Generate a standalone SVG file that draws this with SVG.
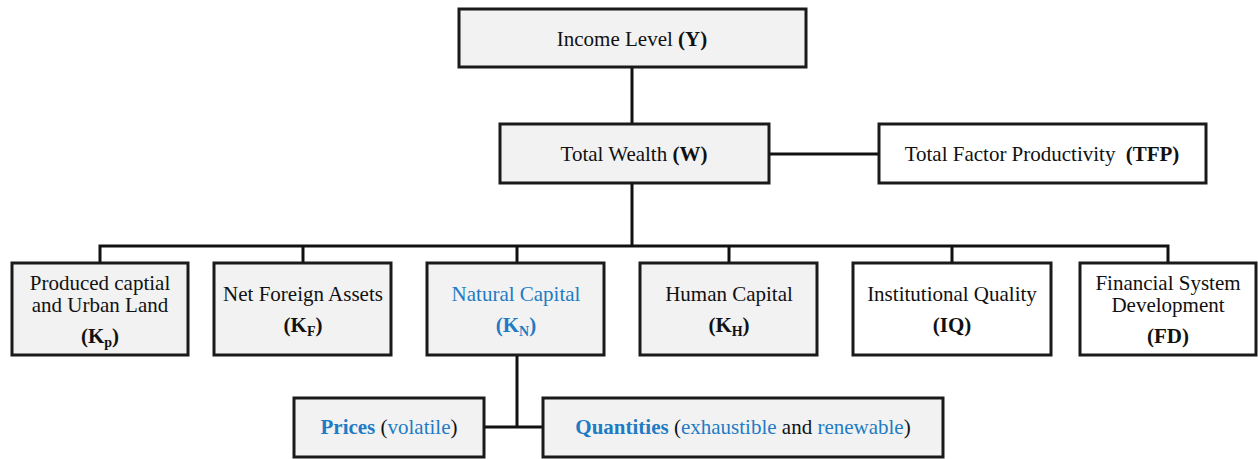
<svg xmlns="http://www.w3.org/2000/svg" width="1258" height="459" viewBox="0 0 1258 459" font-family="'Liberation Serif', 'Times New Roman', 'DejaVu Serif', serif">
<style>
.box{stroke:#1a1a1a;stroke-width:3}
.g{fill:#f2f2f2}
.w{fill:#ffffff}
text{font-family:'Liberation Serif','Times New Roman','DejaVu Serif',serif;font-size:21px;fill:#111;text-anchor:middle}
.b{font-weight:bold}
.blue{fill:#1f7bc4}
.sub{font-size:14px;font-weight:bold}
.conn{stroke:#111;stroke-width:3;fill:none}
</style>
<g id="connectors">
<line class="conn" x1="632" y1="67" x2="632" y2="124"/>
<line class="conn" x1="632" y1="183" x2="632" y2="246"/>
<line class="conn" x1="769" y1="154" x2="879" y2="154"/>
<polyline class="conn" points="100,263 100,246 1168,246 1168,263"/>
<line class="conn" x1="303" y1="246" x2="303" y2="263"/>
<line class="conn" x1="517" y1="246" x2="517" y2="263"/>
<line class="conn" x1="729" y1="246" x2="729" y2="263"/>
<line class="conn" x1="952" y1="246" x2="952" y2="263"/>
<line class="conn" x1="517" y1="355" x2="517" y2="427"/>
<line class="conn" x1="484" y1="427" x2="543" y2="427"/>
</g>
<g id="income">
<rect class="box g" x="459" y="9" width="347" height="58"/>
<text x="632" y="46">Income Level <tspan class="b">(Y)</tspan></text>
</g>
<g id="wealth">
<rect class="box g" x="500" y="124" width="269" height="59"/>
<text x="634" y="161">Total Wealth <tspan class="b">(W)</tspan></text>
</g>
<g id="tfp">
<rect class="box w" x="879" y="124" width="327" height="59"/>
<text x="1042" y="161">Total Factor Productivity <tspan class="b" dx="5">(TFP)</tspan></text>
</g>
<g id="kp">
<rect class="box g" x="12" y="263" width="176" height="92"/>
<text x="100" y="290">Produced captial</text>
<text x="100" y="312">and Urban Land</text>
<text x="100" y="343" class="b">(K<tspan class="sub" dy="4">p</tspan><tspan dy="-4">)</tspan></text>
</g>
<g id="kf">
<rect class="box g" x="214" y="263" width="177" height="92"/>
<text x="303" y="301">Net Foreign Assets</text>
<text x="303" y="332" class="b">(K<tspan class="sub" dy="4">F</tspan><tspan dy="-4">)</tspan></text>
</g>
<g id="kn">
<rect class="box g" x="427" y="263" width="177" height="92"/>
<text x="516" y="301" class="blue">Natural Capital</text>
<text x="516" y="332" class="b blue">(K<tspan class="sub blue" dy="4">N</tspan><tspan dy="-4">)</tspan></text>
</g>
<g id="kh">
<rect class="box g" x="640" y="263" width="177" height="92"/>
<text x="729" y="301">Human Capital</text>
<text x="729" y="332" class="b">(K<tspan class="sub" dy="4">H</tspan><tspan dy="-4">)</tspan></text>
</g>
<g id="iq">
<rect class="box w" x="853" y="263" width="198" height="92"/>
<text x="952" y="301">Institutional Quality</text>
<text x="952" y="332" class="b">(IQ)</text>
</g>
<g id="fd">
<rect class="box w" x="1080" y="263" width="176" height="92"/>
<text x="1168" y="290">Financial System</text>
<text x="1168" y="312">Development</text>
<text x="1168" y="343" class="b">(FD)</text>
</g>
<g id="prices">
<rect class="box g" x="294" y="398" width="190" height="59"/>
<text x="389" y="434"><tspan class="b blue">Prices</tspan> (<tspan class="blue">volatile</tspan>)</text>
</g>
<g id="quantities">
<rect class="box g" x="543" y="398" width="400" height="59"/>
<text x="743" y="434"><tspan class="b blue">Quantities</tspan> (<tspan class="blue">exhaustible</tspan> and <tspan class="blue">renewable</tspan>)</text>
</g>
</svg>
